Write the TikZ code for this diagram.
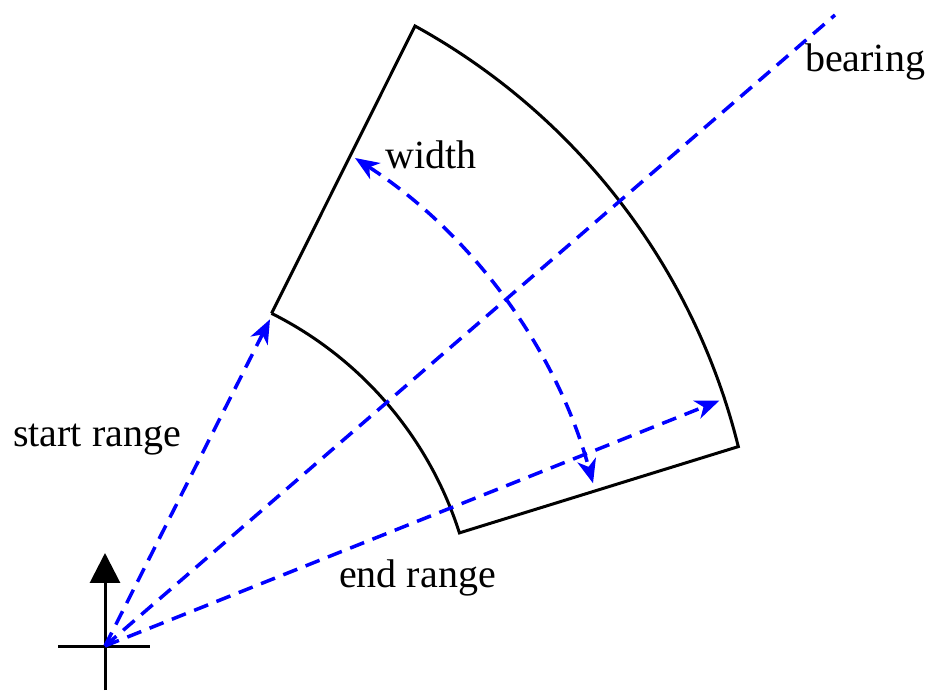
\documentclass[tikz,border=0pt]{standalone}
\usepackage{fontspec}
\setmainfont{Liberation Serif}
\usetikzlibrary{arrows.meta}
\tikzset{
  sector/.style={draw=black, line width=3pt, line join=miter},
  bluedash/.style={draw={rgb,255:red,0;green,0;blue,255}, line width=3.5pt, dash pattern=on 15pt off 9pt},
  bluetip/.style={-{Stealth[length=24pt,width=19pt,inset=7pt,fill={rgb,255:red,0;green,0;blue,255}]}},
  axis/.style={draw=black, line width=3pt},
  lbl/.style={inner sep=0pt, anchor=base, font=\fontsize{40}{48}\selectfont}
}
\begin{document}
\begin{tikzpicture}[x=1pt,y=1pt]
\useasboundingbox (0,0) rectangle (933,690);
% key points
\coordinate (O) at (105,44);
\coordinate (A) at (271.6,376.6);
\coordinate (B) at (459.4,157.1);
\coordinate (C) at (415,664);
\coordinate (D) at (738.3,243.3);
\coordinate (SR) at (270,370.7);
\coordinate (ER) at (719.3,289.3);
\coordinate (BR) at (835,675);
\coordinate (W1) at (355,532);
\coordinate (AxB) at (105,0);
\coordinate (AxT) at (105,137);
\coordinate (AxL) at (58,44);
\coordinate (AxR) at (150,44);
% sector
\draw[sector] (A) -- (C) arc[start angle=61.17, end angle=13.92, radius=661.9] -- (B)
  arc[start angle=17.7, end angle=63.4, radius=372] -- cycle;
% axes
\draw[axis] (AxL) -- (AxR);
\draw[axis, -{Triangle[length=30pt,width=30pt]}] (AxB) -- (AxT);
% dashed lines
\draw[bluedash] (O) -- (BR);
\draw[bluedash, bluetip] (O) -- (SR);
\draw[bluedash, bluetip] (O) -- (ER);
\draw[bluedash, {Stealth[length=24pt,width=19pt,inset=7pt,fill={rgb,255:red,0;green,0;blue,255}]}-{Stealth[length=24pt,width=19pt,inset=7pt,fill={rgb,255:red,0;green,0;blue,255}]}]
  (W1) arc[start angle=57.1, end angle=15.3, radius=564.9];
% labels
\node[lbl] (lbear) at (865,618) {bearing};
\node[lbl] (lwidth) at (431,521) {width};
\node[lbl] (lstart) at (97,243) {start range};
\node[lbl] (lend) at (417.5,102) {end range};
\end{tikzpicture}
\end{document}
